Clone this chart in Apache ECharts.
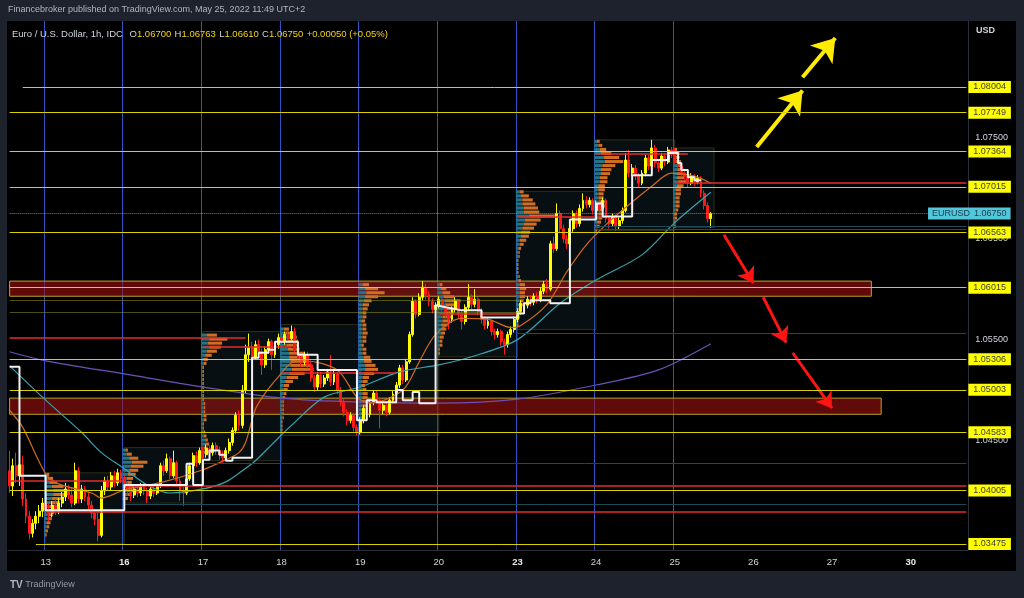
<!DOCTYPE html>
<html><head><meta charset="utf-8">
<script src="https://cdn.jsdelivr.net/npm/echarts@6/dist/echarts.min.js"></script>
<style>
html,body{margin:0;padding:0;background:#1e222d;width:1024px;height:598px;overflow:hidden}
#panel{position:absolute;left:7px;top:21px;width:1009px;height:550px;background:#000}
#chart{position:absolute;left:0;top:0;width:1024px;height:598px}
</style></head><body>
<div id="panel"></div><div id="chart"></div>
<script>
// ---------- DATA (hourly candles, rows = [open, close, low, high]) ----------
const may12 = [
[1.0420,1.0405,1.0398,1.0440],[1.0405,1.0425,1.0395,1.0432],[1.0425,1.0415,1.0408,1.0438],[1.0415,1.0426,1.0405,1.0431],
[1.0426,1.0392,1.0385,1.0435],[1.0392,1.0375,1.0368,1.0398],[1.0375,1.0358,1.0352,1.0380],[1.0358,1.0368,1.0354,1.0372],
[1.0368,1.0375,1.0362,1.0380],[1.0375,1.0380,1.0368,1.0386],[1.0380,1.0388,1.0374,1.0393]];
const may13 = [
[1.0388,1.0382,1.0376,1.0395],[1.0382,1.0378,1.0370,1.0388],[1.0378,1.0386,1.0374,1.0390],[1.0386,1.0380,1.0376,1.0392],
[1.0380,1.0388,1.0377,1.0393],[1.0388,1.0394,1.0384,1.0399],[1.0394,1.0402,1.0390,1.0408],[1.0402,1.0396,1.0392,1.0406],
[1.0396,1.0388,1.0384,1.0404],[1.0388,1.0420,1.0386,1.0428],[1.0420,1.0392,1.0388,1.0424],[1.0392,1.0402,1.0388,1.0406],
[1.0402,1.0394,1.0390,1.0405],[1.0394,1.0386,1.0380,1.0398],[1.0386,1.0378,1.0373,1.0390],[1.0378,1.0372,1.0366,1.0382],
[1.0372,1.0356,1.0350,1.0380],[1.0356,1.0400,1.0354,1.0405],[1.0400,1.0410,1.0396,1.0414],[1.0410,1.0404,1.0400,1.0415],
[1.0404,1.0415,1.0401,1.0419],[1.0415,1.0408,1.0404,1.0420],[1.0408,1.0418,1.0405,1.0422],[1.0418,1.0412,1.0408,1.0421]];
const may16 = [
[1.0412,1.0405,1.0400,1.0415],[1.0405,1.0400,1.0395,1.0409],[1.0400,1.0396,1.0390,1.0404],[1.0396,1.0402,1.0393,1.0406],
[1.0402,1.0398,1.0394,1.0405],[1.0398,1.0405,1.0395,1.0408],[1.0405,1.0400,1.0396,1.0408],[1.0400,1.0395,1.0388,1.0403],
[1.0395,1.0402,1.0392,1.0405],[1.0402,1.0398,1.0394,1.0406],[1.0398,1.0405,1.0396,1.0408],[1.0405,1.0425,1.0403,1.0428],
[1.0425,1.0420,1.0415,1.0430],[1.0420,1.0432,1.0418,1.0437],[1.0432,1.0415,1.0412,1.0434],[1.0415,1.0428,1.0413,1.0440],
[1.0428,1.0410,1.0407,1.0430],[1.0410,1.0400,1.0390,1.0413],[1.0400,1.0398,1.0385,1.0404],[1.0398,1.0412,1.0396,1.0415],
[1.0412,1.0425,1.0410,1.0428],[1.0425,1.0435,1.0422,1.0438],[1.0435,1.0428,1.0424,1.0439],[1.0428,1.0440,1.0426,1.0443]];
const may17 = [
[1.0440,1.0436,1.0432,1.0444],[1.0436,1.0442,1.0433,1.0446],[1.0442,1.0438,1.0434,1.0445],[1.0438,1.0445,1.0435,1.0448],
[1.0445,1.0440,1.0436,1.0448],[1.0440,1.0436,1.0431,1.0444],[1.0436,1.0433,1.0428,1.0440],[1.0433,1.0440,1.0430,1.0443],
[1.0440,1.0448,1.0437,1.0452],[1.0448,1.0460,1.0445,1.0463],[1.0460,1.0475,1.0457,1.0478],[1.0475,1.0465,1.0460,1.0480],
[1.0465,1.0500,1.0462,1.0505],[1.0500,1.0535,1.0497,1.0545],[1.0535,1.0542,1.0528,1.0556],[1.0542,1.0532,1.0527,1.0548],
[1.0532,1.0545,1.0530,1.0549],[1.0545,1.0538,1.0533,1.0550],[1.0538,1.0525,1.0515,1.0541],[1.0525,1.0540,1.0522,1.0543],
[1.0540,1.0548,1.0536,1.0551],[1.0548,1.0535,1.0520,1.0550],[1.0535,1.0545,1.0532,1.0548],[1.0545,1.0552,1.0541,1.0556]];
const may18 = [
[1.0552,1.0548,1.0544,1.0557],[1.0548,1.0555,1.0545,1.0558],[1.0555,1.0551,1.0547,1.0559],[1.0551,1.0558,1.0549,1.0564],
[1.0558,1.0540,1.0537,1.0562],[1.0540,1.0532,1.0528,1.0544],[1.0532,1.0528,1.0523,1.0536],[1.0528,1.0535,1.0525,1.0538],
[1.0535,1.0525,1.0521,1.0538],[1.0525,1.0512,1.0508,1.0528],[1.0512,1.0503,1.0498,1.0515],[1.0503,1.0515,1.0500,1.0518],
[1.0515,1.0506,1.0502,1.0518],[1.0506,1.0512,1.0503,1.0515],[1.0512,1.0518,1.0509,1.0521],[1.0518,1.0508,1.0504,1.0535],
[1.0508,1.0516,1.0505,1.0519],[1.0516,1.0500,1.0496,1.0518],[1.0500,1.0488,1.0484,1.0503],[1.0488,1.0478,1.0474,1.0491],
[1.0478,1.0470,1.0465,1.0481],[1.0470,1.0475,1.0467,1.0478],[1.0475,1.0463,1.0459,1.0477],[1.0463,1.0458,1.0455,1.0466]];
const may19 = [
[1.0458,1.0470,1.0456,1.0473],[1.0470,1.0482,1.0467,1.0485],[1.0482,1.0476,1.0472,1.0486],[1.0476,1.0488,1.0473,1.0491],
[1.0488,1.0497,1.0485,1.0500],[1.0497,1.0490,1.0486,1.0499],[1.0490,1.0480,1.0462,1.0493],[1.0480,1.0485,1.0476,1.0488],
[1.0485,1.0478,1.0474,1.0488],[1.0478,1.0490,1.0476,1.0493],[1.0490,1.0496,1.0487,1.0499],[1.0496,1.0505,1.0493,1.0508],
[1.0505,1.0522,1.0502,1.0525],[1.0522,1.0510,1.0506,1.0525],[1.0510,1.0528,1.0508,1.0531],[1.0528,1.0555,1.0526,1.0558],
[1.0555,1.0588,1.0553,1.0592],[1.0588,1.0575,1.0571,1.0590],[1.0575,1.0592,1.0573,1.0596],[1.0592,1.0602,1.0589,1.0608],
[1.0602,1.0595,1.0590,1.0605],[1.0595,1.0588,1.0583,1.0598],[1.0588,1.0580,1.0576,1.0591],[1.0580,1.0584,1.0577,1.0587]];
const may20 = [
[1.0584,1.0590,1.0581,1.0593],[1.0590,1.0582,1.0578,1.0593],[1.0582,1.0575,1.0571,1.0585],[1.0575,1.0570,1.0560,1.0578],
[1.0570,1.0580,1.0567,1.0583],[1.0580,1.0588,1.0577,1.0592],[1.0588,1.0575,1.0571,1.0590],[1.0575,1.0568,1.0560,1.0578],
[1.0568,1.0582,1.0565,1.0585],[1.0582,1.0592,1.0579,1.0605],[1.0592,1.0585,1.0580,1.0595],[1.0585,1.0590,1.0582,1.0600],
[1.0590,1.0578,1.0574,1.0592],[1.0578,1.0570,1.0566,1.0581],[1.0570,1.0564,1.0560,1.0573],[1.0564,1.0568,1.0561,1.0571],
[1.0568,1.0558,1.0554,1.0570],[1.0558,1.0555,1.0550,1.0561],[1.0555,1.0558,1.0552,1.0561],[1.0558,1.0548,1.0544,1.0560],
[1.0548,1.0545,1.0535,1.0551],[1.0545,1.0555,1.0542,1.0558],[1.0555,1.0560,1.0552,1.0563],[1.0560,1.0570,1.0557,1.0573]];
const may23 = [
[1.0570,1.0578,1.0567,1.0581],[1.0578,1.0586,1.0575,1.0589],[1.0586,1.0584,1.0580,1.0590],[1.0584,1.0590,1.0581,1.0593],
[1.0590,1.0587,1.0583,1.0594],[1.0587,1.0593,1.0584,1.0596],[1.0593,1.0590,1.0586,1.0597],[1.0590,1.0598,1.0587,1.0602],
[1.0598,1.0605,1.0595,1.0608],[1.0605,1.0600,1.0596,1.0610],[1.0600,1.0645,1.0598,1.0648],[1.0645,1.0640,1.0636,1.0652],
[1.0640,1.0675,1.0638,1.0685],[1.0675,1.0660,1.0656,1.0678],[1.0660,1.0650,1.0646,1.0664],[1.0650,1.0645,1.0640,1.0654],
[1.0645,1.0660,1.0643,1.0663],[1.0660,1.0675,1.0657,1.0678],[1.0675,1.0665,1.0661,1.0678],[1.0665,1.0680,1.0662,1.0684],
[1.0680,1.0688,1.0677,1.0695],[1.0688,1.0684,1.0680,1.0692],[1.0684,1.0688,1.0681,1.0691],[1.0688,1.0678,1.0674,1.0690]];
const may24 = [
[1.0678,1.0685,1.0675,1.0688],[1.0685,1.0680,1.0676,1.0689],[1.0680,1.0688,1.0677,1.0691],[1.0688,1.0670,1.0666,1.0690],
[1.0670,1.0665,1.0660,1.0673],[1.0665,1.0672,1.0662,1.0675],[1.0672,1.0662,1.0658,1.0674],[1.0662,1.0668,1.0659,1.0671],
[1.0668,1.0678,1.0665,1.0681],[1.0678,1.0728,1.0676,1.0735],[1.0728,1.0715,1.0711,1.0738],[1.0715,1.0720,1.0712,1.0724],
[1.0720,1.0712,1.0708,1.0723],[1.0712,1.0705,1.0701,1.0715],[1.0705,1.0715,1.0703,1.0718],[1.0715,1.0730,1.0712,1.0733],
[1.0730,1.0722,1.0718,1.0733],[1.0722,1.0740,1.0720,1.0748],[1.0740,1.0725,1.0721,1.0743],[1.0725,1.0720,1.0716,1.0728],
[1.0720,1.0732,1.0718,1.0735],[1.0732,1.0726,1.0722,1.0735],[1.0726,1.0738,1.0724,1.0741],[1.0738,1.0734,1.0730,1.0741]];
const may25 = [
[1.0734,1.0728,1.0724,1.0740],[1.0728,1.0722,1.0718,1.0731],[1.0722,1.0715,1.0711,1.0725],[1.0715,1.0712,1.0708,1.0718],
[1.0712,1.0705,1.0701,1.0714],[1.0705,1.0712,1.0703,1.0715],[1.0712,1.0706,1.0702,1.0714],[1.0706,1.0710,1.0704,1.0713],
[1.0710,1.0695,1.0691,1.0712],[1.0695,1.0683,1.0679,1.0698],[1.0683,1.0670,1.0666,1.0686],[1.0670,1.0675,1.0661,1.06763]];

// time axis: hourly bars, day labels at first bar of each day
const totalBars = 293;
const dayLabels   = ['13','16','17','18','19','20','23','24','25','26','27','30'];
const dayStartBar = [11, 35, 59, 83, 107, 131, 155, 179, 203, 227, 251, 275];
const weekStartLabels = ['16','23','30'];
const sessionDays = 9; // day separators drawn for 13..25

// moving averages (read as sparse points [bar, price])
const emaFast = [[0,1.0480],[4,1.0463],[11,1.0417],[15,1.0407],[25,1.0398],[28,1.0393],[35,1.0401],[47,1.0409],[59,1.0421],[66,1.0431],[70,1.0438],[72,1.0448],[75,1.0481],[78,1.0497],[82,1.0513],[86,1.0527],[90,1.0529],[100,1.0520],[106,1.0493],[110,1.0487],[120,1.0500],[125,1.0528],[130,1.0555],[138,1.0571],[146,1.0570],[153,1.0562],[156,1.0564],[164,1.0585],[170,1.0617],[176,1.0644],[182,1.0664],[188,1.0681],[196,1.0702],[202,1.0715],[209,1.0712],[214,1.0705]];
const emaMid  = [[0,1.0524],[11,1.0490],[22,1.0458],[28,1.0438],[35,1.0422],[42,1.0406],[49,1.0398],[59,1.0402],[66,1.0409],[71,1.0420],[75,1.0430],[80,1.0446],[86,1.0465],[96,1.0493],[107,1.0503],[119,1.0518],[131,1.0525],[141,1.0533],[155,1.0550],[168,1.0586],[179,1.0609],[193,1.0634],[203,1.0666],[214,1.0696]];
const emaSlow = [[0,1.0538],[11,1.0529],[35,1.0516],[59,1.0503],[83,1.0492],[107,1.0488],[131,1.0487],[155,1.0491],[179,1.0505],[198,1.0520],[214,1.0546]];
// developing point-of-control step line
const devPoc = [[0,1.0523],[3,1.0523],[3,1.0415],[11,1.0415],[11,1.0381],[35,1.0381],[35,1.0406],[54,1.0406],[54,1.0427],[56,1.0427],[56,1.0406],[59,1.0406],[59,1.0431],[61,1.0431],[61,1.0440],[64,1.0440],[64,1.0436],[66,1.0436],[66,1.0430],[68,1.0430],[68,1.0433],[74,1.0433],[74,1.0532],[76,1.0532],[76,1.0537],[79,1.0537],[79,1.0540],[81,1.0540],[81,1.0548],[88,1.0548],[88,1.0535],[94,1.0535],[94,1.0520],[106,1.0520],[106,1.0470],[109,1.0470],[109,1.0490],[112,1.0490],[112,1.0488],[118,1.0488],[118,1.0500],[120,1.0500],[120,1.0490],[123,1.0490],[123,1.0498],[125,1.0498],[125,1.0487],[130,1.0487],[130,1.0584],[138,1.0579],[144,1.0579],[144,1.0572],[155,1.0572],[155,1.0576],[157,1.0576],[157,1.0586],[159,1.0586],[159,1.0589],[165,1.0589],[165,1.0586],[171,1.0586],[171,1.0669],[179,1.0669],[179,1.0685],[181,1.0685],[181,1.0672],[190,1.0672],[190,1.0713],[196,1.0713],[196,1.0728],[201,1.0728],[201,1.0735],[204,1.0735],[204,1.0725],[205,1.0725],[205,1.0718],[207,1.0718],[207,1.0711],[209,1.0711],[209,1.0708],[211,1.0708]];

// horizontal levels with price tags
const levelPrices   = [1.08004, 1.07749, 1.07364, 1.07015, 1.06563, 1.06015, 1.05306, 1.05003, 1.04583, 1.04005, 1.03475];
const levelStartBar = [4, 0, 0, 0, 0, 0, 0, 0, 0, 0, 8];
const axisTickPrices = [1.075, 1.065, 1.055, 1.045];
const lastPrice = 1.06750, symbolName = 'EURUSD';
const lastOHLC = {o:'1.06700', h:'1.06763', l:'1.06610', c:'1.06750', chg:'+0.00050 (+0.05%)'};
// [startBar, endBar, top, bottom]
const zones = [[0, 263, 1.0608, 1.0593], [0, 266, 1.0492, 1.0476]];
// naked POC lines [price, fromBar, toBar]
const pocLines = [[1.0552,0,72],[1.0543,59,86],[1.0517,83,118],[1.0410,0,35],[1.0405,35,292],[1.0379,11,292],[1.0576,131,155],[1.0672,155,182],[1.0734,179,207],[1.0705,203,292]];
const vaLines  = [[1.0662,179,292],[1.0659,179,292],[1.0556,155,292],[1.0427,59,292],[1.0387,35,292]];
const dimLines = [[1.0589,0,155],[1.0577,0,157]];
// session boxes [startBar, endBar, high, low]
const sessionBoxes = [[11,35,1.0418,1.0348],[35,59,1.0443,1.0388],[59,83,1.0558,1.0430],[83,107,1.0565,1.0455],[107,131,1.0607,1.0455],[131,155,1.0607,1.0533],[155,179,1.0697,1.0560],[179,203,1.0748,1.0658],[203,215,1.0740,1.0661]];
// session volume profiles: rows [price, upVol, downVol]
const vp13 = [[1.0416,2,2],[1.0412,3,4],[1.0408,4,6],[1.0404,6,9],[1.0400,7,12],[1.0396,7,10],[1.0392,6,8],[1.0388,5,7],[1.0384,4,6],[1.0380,4,5],[1.0376,3,4],[1.0372,3,3],[1.0368,2,3],[1.0364,2,2],[1.0360,1,2],[1.0356,1,1]];
const vp16 = [[1.0440,2,2],[1.0436,3,4],[1.0432,5,7],[1.0428,7,12],[1.0424,6,10],[1.0420,5,7],[1.0416,4,6],[1.0412,3,5],[1.0408,3,4],[1.0404,3,5],[1.0400,4,6],[1.0396,3,4],[1.0392,2,2]];
const vp17 = [[1.0554,4,8],[1.0550,6,14],[1.0546,5,11],[1.0542,6,9],[1.0538,4,8],[1.0534,3,5],[1.0530,2,3],[1.0526,2,2],[1.0522,1,1],[1.0518,1,1],[1.0514,1,1],[1.0510,1,1],[1.0506,1,1],[1.0502,1,1],[1.0498,1,1],[1.0494,1,1],[1.0490,1,1],[1.0486,2,1],[1.0482,2,1],[1.0478,2,1],[1.0474,2,2],[1.0470,2,2],[1.0466,1,1],[1.0462,1,1],[1.0458,2,1],[1.0454,2,2],[1.0450,3,2],[1.0446,3,3],[1.0442,2,3],[1.0438,2,2],[1.0434,1,1]];
const vp18 = [[1.0560,3,4],[1.0556,4,6],[1.0552,5,8],[1.0548,5,9],[1.0544,5,8],[1.0540,6,9],[1.0536,7,12],[1.0532,7,13],[1.0528,8,14],[1.0524,8,16],[1.0520,9,17],[1.0516,7,12],[1.0512,5,9],[1.0508,4,6],[1.0504,3,4],[1.0500,3,3],[1.0496,3,2],[1.0492,2,2],[1.0488,2,1],[1.0484,2,1],[1.0480,2,1],[1.0476,2,1],[1.0472,2,1],[1.0468,1,1],[1.0464,1,1],[1.0460,1,1]];
const vp19 = [[1.0604,3,5],[1.0600,5,10],[1.0596,6,14],[1.0592,5,10],[1.0588,4,6],[1.0584,3,5],[1.0580,3,4],[1.0576,3,3],[1.0572,3,3],[1.0568,2,3],[1.0564,3,3],[1.0560,3,3],[1.0556,3,4],[1.0552,3,3],[1.0548,3,3],[1.0544,2,2],[1.0540,3,3],[1.0536,3,3],[1.0532,4,5],[1.0528,4,6],[1.0524,5,8],[1.0520,5,10],[1.0516,4,8],[1.0512,3,5],[1.0508,3,4],[1.0504,2,3],[1.0500,3,3],[1.0496,3,4],[1.0492,3,4],[1.0488,3,5],[1.0484,3,4],[1.0480,3,3],[1.0476,2,2],[1.0472,2,2],[1.0468,1,2],[1.0464,1,1],[1.0460,1,1]];
const vp20 = [[1.0604,2,2],[1.0600,3,4],[1.0596,4,6],[1.0592,5,8],[1.0588,6,12],[1.0584,6,10],[1.0580,5,9],[1.0576,5,8],[1.0572,4,7],[1.0568,4,6],[1.0564,3,5],[1.0560,3,4],[1.0556,3,3],[1.0552,2,3],[1.0548,2,2],[1.0544,2,2],[1.0540,1,1],[1.0536,1,1]];
const vp23 = [[1.0696,3,3],[1.0692,4,6],[1.0688,5,8],[1.0684,5,10],[1.0680,6,11],[1.0676,6,12],[1.0672,10,20],[1.0668,7,12],[1.0664,6,10],[1.0660,5,9],[1.0656,4,7],[1.0652,4,6],[1.0648,3,5],[1.0644,3,3],[1.0640,2,2],[1.0636,2,1],[1.0632,2,1],[1.0628,1,1],[1.0624,1,1],[1.0620,1,1],[1.0616,1,1],[1.0612,2,1],[1.0608,2,2],[1.0604,3,4],[1.0600,3,5],[1.0596,3,4],[1.0592,3,4],[1.0588,3,3],[1.0584,3,3],[1.0580,2,2],[1.0576,2,2],[1.0572,2,1],[1.0568,1,1],[1.0564,1,1]];
const vp24 = [[1.0746,2,2],[1.0742,3,3],[1.0738,4,5],[1.0734,5,8],[1.0730,7,12],[1.0726,8,14],[1.0722,6,10],[1.0718,5,8],[1.0714,5,7],[1.0710,4,6],[1.0706,4,6],[1.0702,3,5],[1.0698,3,5],[1.0694,3,4],[1.0690,3,4],[1.0686,3,5],[1.0682,3,5],[1.0678,3,4],[1.0674,3,4],[1.0670,3,3],[1.0666,2,3],[1.0662,2,2],[1.0658,1,1]];
const vp25 = [[1.0738,1,2],[1.0734,2,3],[1.0730,2,3],[1.0726,2,4],[1.0722,3,4],[1.0718,3,5],[1.0714,3,5],[1.0710,3,6],[1.0706,4,7],[1.0702,3,5],[1.0698,2,4],[1.0694,2,4],[1.0690,2,3],[1.0686,2,3],[1.0682,2,3],[1.0678,2,2],[1.0674,1,2],[1.0670,1,2],[1.0666,1,1],[1.0662,1,1]];
const profiles = [[11,vp13],[35,vp16],[59,vp17],[83,vp18],[107,vp19],[131,vp20],[155,vp23],[179,vp24],[203,vp25]];
// drawn annotations (bar, price)
const yellowArrows = [[[228,1.0741],[242,1.0797]], [[242,1.0810],[252,1.0849]]];
const redArrows = [[[218,1.0654],[227,1.0606]], [[230,1.0592],[237,1.0547]], [[239,1.0537],[251,1.0482]]];

// ---------- BUILD ----------
const candles = [].concat(may12, may13, may16, may17, may18, may19, may20, may23, may24, may25);
const categories = Array.from({length: totalBars}, (_, i) => String(i));
const labelMap = {}; dayStartBar.forEach((b, k) => labelMap[b] = dayLabels[k]);
const sepSet = new Set(dayStartBar.slice(0, sessionDays));
const lastBar = totalBars - 1;
const ROW = 0.0004, PX_PER_VOL = 1.3;
const profileData = [];
profiles.forEach(([s, rows]) => rows.forEach(r => profileData.push([s, r[0], r[1], r[2]])));
const FONT = 'Liberation Sans';
const hidden = {color: 'rgba(0,0,0,0)', width: 0};
const full = (p) => [[0, p], [lastBar, p]];

const chart = echarts.init(document.getElementById('chart'), null, {renderer: 'canvas'});
chart.setOption({
  animation: false,
  backgroundColor: 'transparent',
  grid: {left: 8, right: 56, top: 21, bottom: 48},
  xAxis: {
    type: 'category', data: categories, boundaryGap: true,
    axisLine: {show: true, lineStyle: {color: '#2a2e39'}},
    axisTick: {show: false},
    axisLabel: {interval: (i) => labelMap[i] !== undefined,
      formatter: (v) => { const t = labelMap[Number(v)] || ''; return weekStartLabels.includes(t) ? '{w|' + t + '}' : t; },
      rich: {w: {color: '#e6e8ee', fontWeight: 'bold', fontSize: 9.5, fontFamily: FONT}},
      color: '#d1d4dc', fontSize: 9.5, fontFamily: FONT, margin: 7},
    splitLine: {show: true, interval: (i) => sepSet.has(i), lineStyle: {color: '#2f52c4', width: 1}}
  },
  yAxis: {
    type: 'value', position: 'right', min: 1.03415, max: 1.08658, scale: true,
    axisLine: {show: true, lineStyle: {color: '#2a2e39'}}, axisTick: {show: false},
    axisLabel: {show: false}, splitLine: {show: false}
  },
  graphic: [
    {type: 'text', left: 8, top: 5, style: {text: 'Financebroker published on TradingView.com, May 25, 2022 11:49 UTC+2', fill: '#b2b5be', font: '9px "' + FONT + '"'}},
    {type: 'text', left: 12, top: 28, z: 100, style: {
      text: '{t|Euro / U.S. Dollar, 1h, IDC}  {k|O}{v|' + lastOHLC.o + '} {k|H}{v|' + lastOHLC.h + '} {k|L}{v|' + lastOHLC.l + '} {k|C}{v|' + lastOHLC.c + '} {v|' + lastOHLC.chg + '}',
      rich: {t: {fill: '#d1d4dc', fontSize: 9.5, fontFamily: FONT}, k: {fill: '#d1d4dc', fontSize: 9.5, fontFamily: FONT}, v: {fill: '#f2d21b', fontSize: 9.5, fontFamily: FONT}}}},
    {type: 'text', left: 976, top: 26, z: 100, style: {text: 'USD', fill: '#d1d4dc', font: 'bold 9px "' + FONT + '"'}},
    {type: 'text', left: 10, top: 580, style: {text: '{b|TV} TradingView', rich: {b: {fontWeight: 'bold', fontSize: 10, fill: '#b2b5be'}}, fill: '#9598a1', font: '9px "' + FONT + '"'}}
  ],
  series: [
    { // session boxes
      type: 'line', data: [], z: 1, silent: true,
      markArea: {silent: true, itemStyle: {color: 'rgba(40,75,90,0.2)', borderColor: 'rgba(120,120,50,0.35)', borderWidth: 1},
        data: sessionBoxes.map(b => [{coord: [b[0], b[2]]}, {coord: [b[1], b[3]]}])}
    },
    { // volume profiles
      type: 'custom', data: profileData, z: 2, silent: true, encode: {x: 0, y: 1},
      renderItem: (params, api) => {
        const s = api.value(0), p = api.value(1), up = api.value(2), dn = api.value(3);
        const c = api.coord([s, p]);
        const band = api.size([1, 0])[0];
        const rowH = api.size([0, ROW])[1];
        const x0 = c[0] - band / 2, y0 = c[1] - rowH / 2, h = Math.max(1, rowH - 1);
        return {type: 'group', children: [
          {type: 'rect', shape: {x: x0, y: y0, width: up * PX_PER_VOL, height: h}, style: {fill: '#237587'}},
          {type: 'rect', shape: {x: x0 + up * PX_PER_VOL, y: y0, width: dn * PX_PER_VOL, height: h}, style: {fill: '#d06f24'}}
        ]};
      }
    },
    { // helper lines (under candles)
      type: 'line', data: [], z: 2, silent: true, clip: false,
      markLine: {silent: true, symbol: 'none', label: {show: false},
        data: [].concat(
          vaLines.map(l => [{coord: [l[1], l[0]], lineStyle: {color: '#1b4a58', width: 1, type: 'solid'}}, {coord: [l[2], l[0]]}]),
          dimLines.map(l => [{coord: [l[1], l[0]], lineStyle: {color: 'rgba(150,140,30,0.55)', width: 1, type: 'solid'}}, {coord: [l[2], l[0]]}]),
          [[{coord: full(lastPrice)[0], lineStyle: {color: 'rgba(90,200,220,0.75)', width: 1, type: 'dotted'}}, {coord: full(lastPrice)[1]}]]
        )}
    },
    {
      type: 'candlestick', data: candles, z: 3, barWidth: 2.4,
      itemStyle: {color: '#ffff00', color0: '#ff1a1a', borderColor: '#ffff00', borderColor0: '#ff1a1a', borderWidth: 1}
    },
    {type: 'line', data: emaSlow, z: 4, showSymbol: false, smooth: 0.3, lineStyle: {color: '#6d50b8', width: 1.2}},
    {type: 'line', data: emaMid, z: 4, showSymbol: false, smooth: 0.3, lineStyle: {color: '#3aa2ad', width: 1.2}},
    {type: 'line', data: emaFast, z: 4, showSymbol: false, smooth: 0.3, lineStyle: {color: '#d06a1f', width: 1.2}},
    {type: 'line', data: devPoc, z: 5, showSymbol: false, lineStyle: {color: '#f2f2f2', width: 2}},
    { // zones (semi transparent, over candles) + red POC lines + arrows
      type: 'line', data: [], z: 6, silent: true, clip: false,
      markArea: {silent: true, data: zones.map(zn => [{coord: [zn[0], zn[2]], itemStyle: {color: 'rgba(165,18,18,0.58)', borderColor: '#b8a22a', borderWidth: 1}}, {coord: [zn[1], zn[3]]}])},
      markLine: {silent: true, symbol: 'none', label: {show: false},
        data: [].concat(
          pocLines.map(l => [{coord: [l[1], l[0]], lineStyle: {color: '#e52d2d', width: 1.5, type: 'solid'}}, {coord: [l[2], l[0]]}]),
          yellowArrows.map(a => [{coord: a[0], symbol: 'none', lineStyle: {color: '#ffeb00', width: 4, type: 'solid'}}, {coord: a[1], symbol: 'arrow', symbolSize: 22}]),
          redArrows.map(a => [{coord: a[0], symbol: 'none', lineStyle: {color: '#ff1414', width: 3, type: 'solid'}}, {coord: a[1], symbol: 'arrow', symbolSize: 15}])
        )}
    },
    { // axis tick labels
      type: 'line', data: [], z: 7, silent: true, clip: false,
      markLine: {silent: true, symbol: 'none',
        data: axisTickPrices.map(p => [
          {coord: full(p)[0], lineStyle: hidden,
           label: {show: true, position: 'end', distance: 9, formatter: p.toFixed(5), color: '#d1d4dc', fontSize: 9, fontFamily: FONT}},
          {coord: full(p)[1]}])}
    },
    { // yellow levels with tags + symbol tag
      type: 'line', data: [], z: 8, silent: true, clip: false,
      markLine: {silent: true, symbol: 'none',
        data: [].concat(
          levelPrices.map((p, k) => [
            {coord: [levelStartBar[k], p], lineStyle: {color: '#d8d000', width: 1, type: 'solid'},
             label: {show: true, position: 'end', distance: 2, formatter: p.toFixed(5), color: '#3c3c3c', backgroundColor: '#ffff00', padding: [2, 5, 1, 5], fontSize: 9, fontFamily: FONT}},
            {coord: [lastBar, p]}]),
          [[{coord: [0, lastPrice], lineStyle: hidden,
             label: {show: true, position: 'end', distance: 1, formatter: '{a|' + symbolName + '}{b|' + lastPrice.toFixed(5) + '}',
               backgroundColor: '#52c7dc', padding: [2, 4, 1, 4], rich: {a: {width: 42, color: '#1d3c48', fontSize: 9, fontFamily: FONT}, b: {color: '#1d3c48', fontSize: 9, fontFamily: FONT}}}},
            {coord: [280, lastPrice]}]]
        )}
    }
  ]
});
</script></body></html>
